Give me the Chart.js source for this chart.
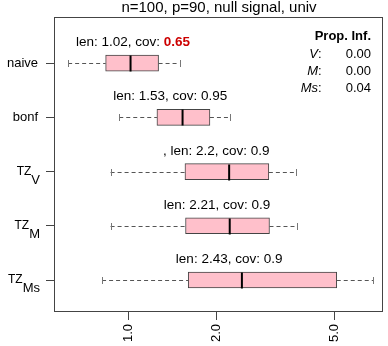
<!DOCTYPE html>
<html>
<head>
<meta charset="utf-8">
<script src="https://cdn.jsdelivr.net/npm/chart.js@4.4.0/dist/chart.umd.min.js"></script>
<style>
  html, body { margin: 0; padding: 0; background: #fff; }
  #wrap { width: 388px; height: 346px; }
</style>
</head>
<body>
<div id="wrap"><canvas id="boxChart" width="388" height="346"></canvas></div>
<script>
// Data
const methods = ['naive', 'bonf', 'TZ', 'TZ', 'TZ'];
const methodSubs = ['', '', 'V', 'M', 'Ms'];
const whiskerLow = [0.627, 0.934, 0.873, 0.873, 0.817];
const boxLow = [0.840, 1.253, 1.559, 1.566, 1.599];
const medians = [1.02, 1.53, 2.2, 2.21, 2.43];
const boxHigh = [1.269, 1.894, 2.998, 3.013, 5.09];
const whiskerHigh = [1.495, 2.223, 3.717, 3.73, 6.77];
const lenLabels = ['1.02', '1.53', '2.2', '2.21', '2.43'];
const covLabels = ['0.65', '0.95', '0.9', '0.9', '0.9'];
const covBad = [true, false, false, false, false];
const labelPrefix = ['', '', ', ', '', ''];
const labelAt = [1.04, 1.39, 1.99, 2.0, 2.2];
const xTicks = [1, 2, 5];
const propNames = ['V', 'M', 'Ms'];
const propValues = ['0.00', '0.00', '0.04'];
const titleText = 'n=100, p=90, null signal, univ';

const FONT = 'Liberation Sans, Arial, Helvetica, sans-serif';

// whiskers, medians, labels and frame drawn on top of the bars
const boxExtras = {
  id: 'boxExtras',
  afterDatasetsDraw(chart) {
    const ctx = chart.ctx;
    const xs = chart.scales.x;
    const ys = chart.scales.y;
    const area = chart.chartArea;
    ctx.save();

    methods.forEach((m, i) => {
      const y = Math.round(ys.getPixelForValue(i)) + 0.5;
      const wl = xs.getPixelForValue(whiskerLow[i]);
      const bl = xs.getPixelForValue(boxLow[i]);
      const bh = xs.getPixelForValue(boxHigh[i]);
      const wh = xs.getPixelForValue(whiskerHigh[i]);
      const md = xs.getPixelForValue(medians[i]);

      // dashed whiskers
      ctx.strokeStyle = '#555';
      ctx.lineWidth = 1;
      ctx.setLineDash([4, 3]);
      ctx.beginPath();
      ctx.moveTo(wl, y); ctx.lineTo(bl, y);
      ctx.moveTo(bh, y); ctx.lineTo(wh, y);
      ctx.stroke();
      ctx.setLineDash([]);

      // staples
      ctx.strokeStyle = '#777';
      ctx.beginPath();
      ctx.moveTo(Math.round(wl) + 0.5, y - 3.5); ctx.lineTo(Math.round(wl) + 0.5, y + 3.5);
      ctx.moveTo(Math.round(wh) + 0.5, y - 3.5); ctx.lineTo(Math.round(wh) + 0.5, y + 3.5);
      ctx.stroke();

      // median
      ctx.strokeStyle = '#000';
      ctx.lineWidth = 2;
      ctx.beginPath();
      ctx.moveTo(md, y - 8); ctx.lineTo(md, y + 8);
      ctx.stroke();

      // annotation above box
      const cx = xs.getPixelForValue(labelAt[i]);
      const ty = y - 21;
      const part1 = labelPrefix[i] + 'len: ' + lenLabels[i] + ', cov: ';
      const part2 = covLabels[i];
      ctx.textBaseline = 'middle';
      ctx.textAlign = 'left';
      ctx.font = '13.5px ' + FONT;
      const w1 = ctx.measureText(part1).width;
      ctx.font = (covBad[i] ? 'bold ' : '') + '13.5px ' + FONT;
      const w2 = ctx.measureText(part2).width;
      const x0 = cx - (w1 + w2) / 2;
      ctx.font = '13.5px ' + FONT;
      ctx.fillStyle = '#000';
      ctx.fillText(part1, x0, ty);
      ctx.font = (covBad[i] ? 'bold ' : '') + '13.5px ' + FONT;
      ctx.fillStyle = covBad[i] ? '#CC0000' : '#000';
      ctx.fillText(part2, x0 + w1, ty);

      // category label with subscript
      ctx.fillStyle = '#000';
      ctx.textAlign = 'right';
      if (methodSubs[i]) {
        ctx.font = '13px ' + FONT;
        const ws = ctx.measureText(methodSubs[i]).width;
        ctx.fillText(methodSubs[i], 40, y + 8);
        ctx.font = '12px ' + FONT;
        ctx.fillText(m, 40 - ws, y - 1);
      } else {
        ctx.font = '13px ' + FONT;
        ctx.fillText(m, 38, y);
      }
    });

    // frame
    ctx.strokeStyle = '#444';
    ctx.lineWidth = 1;
    ctx.strokeRect(area.left - 0.5, area.top + 0.5, area.right - area.left, area.bottom - area.top - 1);

    // title
    ctx.fillStyle = '#000';
    ctx.textAlign = 'center';
    ctx.textBaseline = 'middle';
    ctx.font = '15px ' + FONT;
    ctx.fillText(titleText, (area.left + area.right) / 2, 8);

    // Prop. Inf. block
    ctx.textAlign = 'right';
    ctx.font = 'bold 13px ' + FONT;
    ctx.fillText('Prop. Inf.', 371, 36);
    propNames.forEach((n, k) => {
      const py = 54 + k * 17.2;
      ctx.textAlign = 'left';
      ctx.font = 'italic 13px ' + FONT;
      const wn = ctx.measureText(n).width;
      ctx.fillText(n, 318 - wn, py);
      ctx.font = '13px ' + FONT;
      ctx.fillText(':', 318, py);
      ctx.textAlign = 'right';
      ctx.fillText(propValues[k], 371, py);
    });

    ctx.restore();
  }
};

const ctx = document.getElementById('boxChart').getContext('2d');
const chart = new Chart(ctx, {
  type: 'bar',
  data: {
    datasets: [{
      data: methods.map((m, i) => ({ x: [boxLow[i], boxHigh[i]], y: i })),
      backgroundColor: '#FFC0CB',
      borderColor: '#444',
      borderWidth: 1,
      borderSkipped: false,
      barThickness: 16,
    }],
  },
  options: {
    indexAxis: 'y',
    responsive: false,
    animation: false,
    layout: { padding: { top: 17, right: 5, left: 0, bottom: 0 } },
    plugins: {
      legend: { display: false },
      tooltip: { enabled: false },
      title: { display: false },
    },
    scales: {
      x: {
        type: 'logarithmic',
        min: 0.566,
        max: 7.3,
        afterBuildTicks: (axis) => {
          axis.ticks = xTicks.map((v) => ({ value: v }));
        },
        afterFit: (axis) => { axis.height = 34; },
        ticks: {
          callback: (v) => Number(v).toFixed(1),
          minRotation: 90,
          maxRotation: 90,
          padding: 4,
          color: '#000',
          font: { family: FONT, size: 13 },
        },
        grid: { drawOnChartArea: false, tickLength: 8, color: '#444' },
        border: { display: false },
      },
      y: {
        type: 'linear',
        reverse: true,
        offset: false,
        min: -0.85,
        max: 4.59,
        afterBuildTicks: (axis) => {
          axis.ticks = methods.map((m, i) => ({ value: i }));
        },
        afterFit: (axis) => { axis.width = 55; },
        ticks: { callback: () => '' },
        grid: { drawOnChartArea: false, offset: false, tickLength: 9, color: '#444' },
        border: { display: false },
      },
    },
  },
  plugins: [boxExtras],
});
</script>
</body>
</html>
